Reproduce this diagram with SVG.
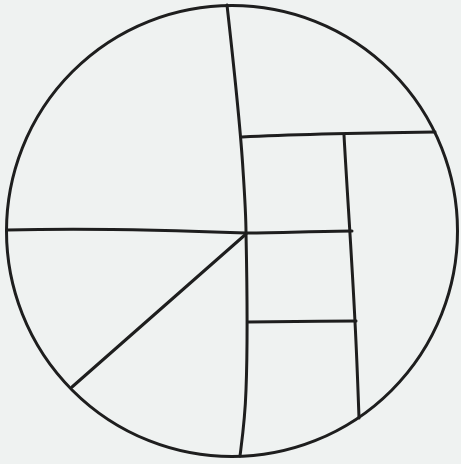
<svg xmlns="http://www.w3.org/2000/svg" width="461" height="464" viewBox="0 0 461 464">
<style>
.ln{fill:none;stroke:#1e1e1e;stroke-width:3;stroke-linecap:round;stroke-linejoin:round}
</style>
<rect width="461" height="464" fill="#eff2f1"/>
<g id="circle">
<circle class="ln" cx="232" cy="231" r="225.5"/>
</g>
<g id="connectors">
<path class="ln" d="M227,5 C232,50 240,120 243,170 C245,200 246,220 246,233"/>
<path class="ln" d="M246,233 C247,280 248,340 246,390 C245,420 242,440 240,456"/>
<path class="ln" d="M7,230 C80,228 170,230 246,233"/>
<path class="ln" d="M246,234 L72,387"/>
<path class="ln" d="M242,137 C300,134 360,133 435,132"/>
<path class="ln" d="M344,135 C347,190 352,260 355,322 C357,360 358,390 359,418"/>
<path class="ln" d="M247,233 C280,233 320,231 352,231"/>
<path class="ln" d="M248,322 C280,322 320,321 356,321"/>
</g>
</svg>
